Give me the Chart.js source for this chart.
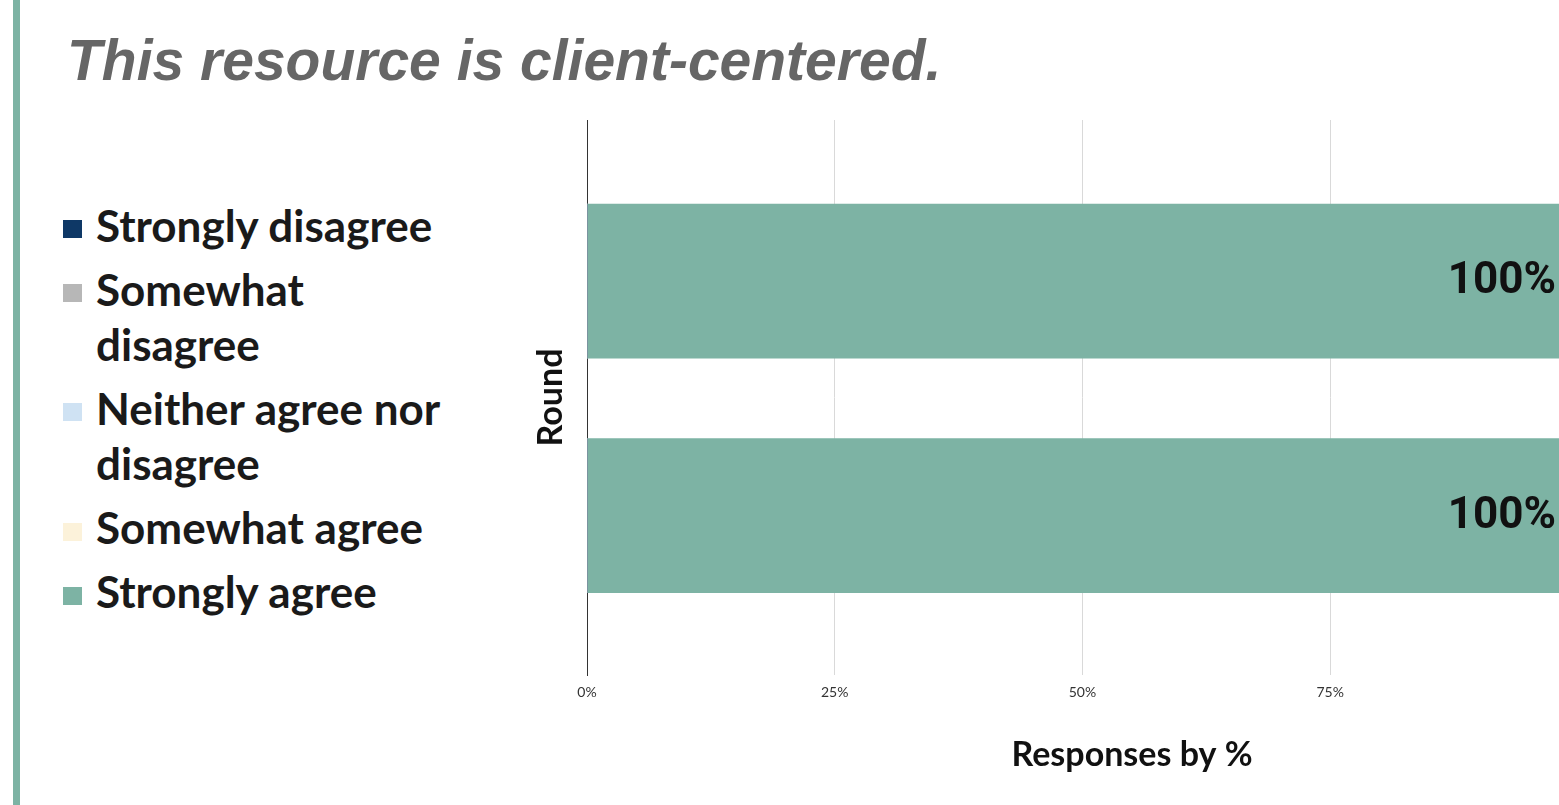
<!DOCTYPE html>
<html><head><meta charset="utf-8">
<script src="https://cdn.jsdelivr.net/npm/chart.js@4.4.1/dist/chart.umd.min.js"></script>
<style>
html,body{margin:0;padding:0;width:1559px;height:805px;overflow:hidden;background:#fff;}
#stripe{position:absolute;left:13px;top:0;width:7px;height:805px;background:#7db3a4;}
#title{position:absolute;left:67px;top:31px;font:italic bold 57px "Liberation Sans",Arial,sans-serif;line-height:58px;color:#666;white-space:nowrap;margin:0;}
#legend{position:absolute;left:63px;top:197.5px;width:420px;margin:0;padding:0;list-style:none;}
#legend li{display:flex;align-items:flex-start;margin-bottom:9.2px;}
#legend .sw{width:19px;height:18px;margin-top:22.5px;flex:none;}
#legend .tx{margin-left:14px;width:360px;font:bold 44px Lato,sans-serif;line-height:55px;color:#1a1a1a;}
#wrap{position:absolute;left:520px;top:100px;width:1224px;height:705px;}
</style></head><body>
<div id="stripe"></div>
<h1 id="title">This resource is client-centered.</h1>
<ul id="legend"></ul>
<div id="wrap"><canvas id="c"></canvas></div>
<script>
const categories = ['Round 1', 'Round 2'];
const roundPositions = [1, 2];
const seriesNames = ['Strongly disagree', 'Somewhat disagree', 'Neither agree nor disagree', 'Somewhat agree', 'Strongly agree'];
const stronglyDisagree = [0, 0];
const somewhatDisagree = [0, 0];
const neitherAgreeNorDisagree = [0, 0];
const somewhatAgree = [0, 0];
const stronglyAgree = [100, 100];
const seriesColors = ['#0e3866', '#b7b7b7', '#cfe2f3', '#fcf2da', '#7db3a4'];
const xTickValues = [0, 25, 50, 75, 100];
const xTitle = 'Responses by %';
const yTitle = 'Round';

const seriesValues = [stronglyDisagree, somewhatDisagree, neitherAgreeNorDisagree, somewhatAgree, stronglyAgree];

const datasets = seriesNames.map((name, s) => ({
  label: name,
  backgroundColor: seriesColors[s],
  borderWidth: 0,
  barThickness: 154,
  data: seriesValues[s].map((v, i) => ({x: v, y: roundPositions[i], cat: categories[i]}))
}));

const valueLabels = {
  id: 'valueLabels',
  afterDatasetsDraw(chart) {
    const ctx = chart.ctx;
    ctx.save();
    ctx.font = 'bold 44px Roboto, sans-serif';
    ctx.fillStyle = '#111';
    ctx.textAlign = 'right';
    ctx.textBaseline = 'middle';
    chart.data.datasets.forEach((ds, di) => {
      const meta = chart.getDatasetMeta(di);
      meta.data.forEach((el, i) => {
        const v = ds.data[i].x;
        if (v > 0) ctx.fillText(v + '%', el.x - 22, el.y + 1);
      });
    });
    ctx.restore();
  }
};

const chart = new Chart(document.getElementById('c'), {
  type: 'bar',
  data: {datasets},
  options: {
    indexAxis: 'y',
    responsive: true,
    maintainAspectRatio: false,
    animation: false,
    layout: {padding: {top: 20, right: 67, bottom: 0, left: 0}},
    plugins: {legend: {display: false}, tooltip: {enabled: false}},
    scales: {
      x: {
        type: 'linear',
        stacked: true,
        min: 0,
        max: 110,
        afterBuildTicks: (scale) => { scale.ticks = xTickValues.map(v => ({value: v})); },
        ticks: {
          callback: (v) => v + '%',
          font: {family: 'Lato', size: 14},
          color: '#333',
          padding: 8.6,
          maxRotation: 0
        },
        grid: {color: '#d9d9d9', lineWidth: 1, drawTicks: false},
        border: {display: false},
        title: {
          display: true,
          text: xTitle,
          font: {family: 'Lato', size: 34, weight: 'bold'},
          color: '#111',
          padding: {top: 25.6, bottom: 29.6}
        }
      },
      y: {
        type: 'linear',
        offset: false,
        bounds: 'data',
        stacked: true,
        reverse: true,
        min: 0.313,
        max: 2.68,
        ticks: {display: false},
        grid: {display: false, drawTicks: false, offset: false},
        border: {display: true, color: '#333', width: 1},
        title: {
          display: true,
          text: yTitle,
          font: {family: 'Lato', size: 34, weight: 'bold'},
          color: '#111',
          padding: {top: 10.6, bottom: 15.6}
        }
      }
    }
  },
  plugins: [valueLabels]
});

const legendEl = document.getElementById('legend');
chart.data.datasets.forEach(ds => {
  const li = document.createElement('li');
  const sw = document.createElement('span');
  sw.className = 'sw';
  sw.style.background = ds.backgroundColor;
  const tx = document.createElement('span');
  tx.className = 'tx';
  tx.textContent = ds.label;
  li.appendChild(sw);
  li.appendChild(tx);
  legendEl.appendChild(li);
});
</script>
</body></html>
